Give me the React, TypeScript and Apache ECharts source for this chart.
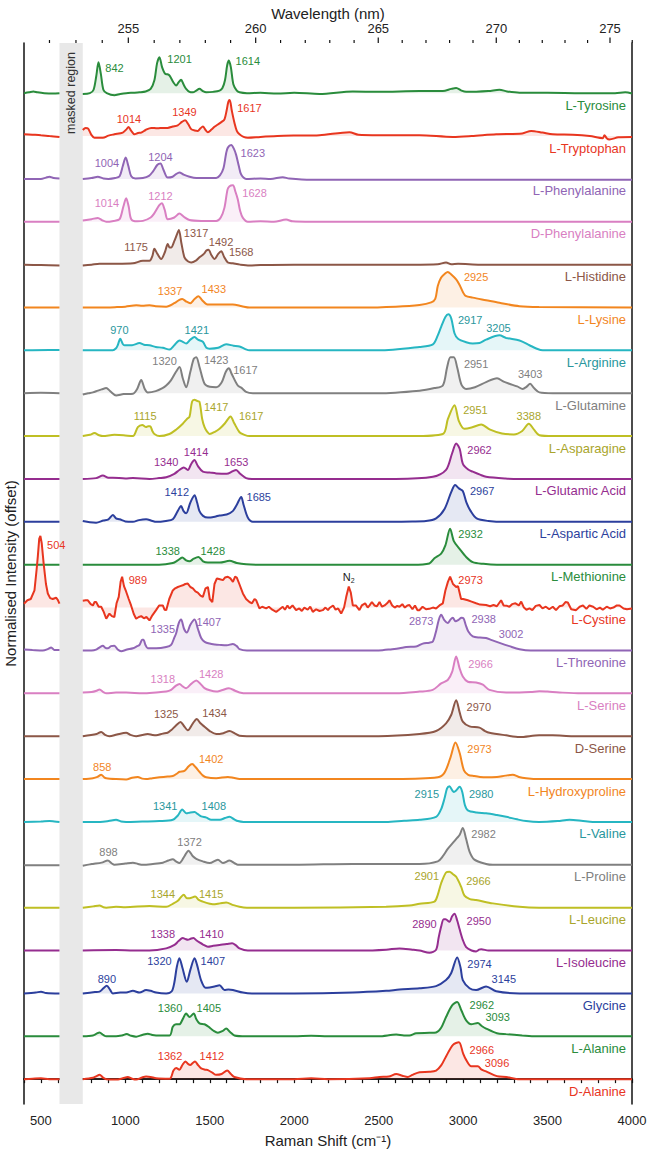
import React, { useEffect, useRef } from 'react';
import * as echarts from 'echarts';

const FONT = '"Liberation Sans", Arial, Helvetica, sans-serif';

const xMin = 400;
const xMax = 4000;
const yMin = -0.58;
const yMax = 24.17;
const maskedRegion = [610, 748];
const laserNm = 248.55;
const wavelengthTicks = [252, 253, 254, 255, 256, 257, 258, 259, 260, 261, 262, 263, 264, 265, 266, 267, 268, 269, 270, 271, 272, 273, 274, 275, 276];

const names = ['L-Tyrosine', 'L-Tryptophan', 'L-Phenylalanine', 'D-Phenylalanine', 'L-Histidine', 'L-Lysine', 'L-Arginine', 'L-Glutamine', 'L-Asparagine', 'L-Glutamic Acid', 'L-Aspartic Acid', 'L-Methionine', 'L-Cystine', 'L-Threonine', 'L-Serine', 'D-Serine', 'L-Hydroxyproline', 'L-Valine', 'L-Proline', 'L-Leucine', 'L-Isoleucine', 'Glycine', 'L-Alanine', 'D-Alanine'];

const lineColors = ['#2A8C3C', '#E8361F', '#9065B5', '#D97FC2', '#8C5747', '#F2861F', '#26B6C2', '#808080', '#BFBF24', '#952D8F', '#2C3F9D'];
const textColors = ['#2A8C3C', '#E8361F', '#9065B5', '#D97FC2', '#8C5747', '#F2861F', '#2A979D', '#808080', '#A9A52B', '#952D8F', '#2C3F9D'];

const tyrosine = [[400,0],[430,0.02],[455,0.04],[480,0.02],[520,0],[570,-0.01],[610,0],
[748,-0.02],[790,0],[812,0.08],[828,0.4],[841,0.72],[855,0.45],[870,0.08],[890,0],[935,-0.05],[970,-0.02],[1005,0],[1050,0.01],[1084,0.02],[1120,0.04],[1150,0.1],[1172,0.3],[1188,0.7],[1202,0.84],[1218,0.6],[1236,0.45],[1250,0.44],[1262,0.41],[1285,0.25],[1301,0.18],[1315,0.25],[1330,0.31],[1345,0.2],[1360,0.1],[1380,0.03],[1400,0.02],[1420,0.06],[1439,0.1],[1458,0.05],[1479,0.02],[1520,0.03],[1558,0.06],[1575,0.12],[1590,0.3],[1603,0.65],[1613,0.76],[1625,0.6],[1640,0.2],[1660,0.06],[1676,0.02],[1720,0],[1800,0.01],[1900,-0.01],[2000,0.01],[2150,-0.02],[2347,0.04],[2500,0.03],[2742,0.05],[2880,0.05],[2930,0.1],[2959,0.12],[2990,0.06],[3018,0.03],[3150,0.05],[3215,0.08],[3260,0.04],[3334,0.01],[3500,0.01],[3700,0],[3900,0],[3960,0.02],[4000,-0.01]];

const tryptophan = [[400,0.04],[450,0.03],[500,0.02],[550,0],[610,-0.02],
[748,0.14],[765,0.19],[780,0.17],[800,0.02],[817,-0.04],[867,-0.04],[900,0.01],[935,0.04],[985,0.08],[1005,0.15],[1019,0.21],[1035,0.12],[1054,0.04],[1075,0.07],[1094,0.08],[1120,0.14],[1153,0.19],[1190,0.18],[1223,0.19],[1250,0.19],[1281,0.22],[1310,0.25],[1335,0.33],[1354,0.37],[1372,0.28],[1390,0.16],[1410,0.13],[1429,0.12],[1445,0.18],[1459,0.22],[1475,0.14],[1489,0.09],[1510,0.15],[1530,0.22],[1548,0.27],[1570,0.33],[1587,0.39],[1600,0.6],[1610,0.8],[1618,0.84],[1630,0.6],[1646,0.31],[1660,0.12],[1676,0.04],[1700,-0.02],[1725,-0.04],[1800,-0.02],[1900,0],[2000,0.01],[2150,0.02],[2327,0.09],[2380,0.03],[2500,0.02],[2742,0.02],[2939,-0.02],[3050,0],[3196,0.04],[3350,0.06],[3403,0.12],[3470,0.08],[3531,0.04],[3650,0.03],[3750,0],[3827,-0.05],[3837,0.02],[3850,-0.05],[3866,-0.08],[3920,-0.03],[4000,-0.02]];

const phenylalanine = [[400,0],[500,0],[530,0.03],[551,0.05],[575,0.02],[610,0.01],
[748,0],[800,0.02],[837,0.05],[870,0.01],[900,0],[940,0.02],[966,0.06],[985,0.3],[1002,0.5],[1018,0.3],[1035,0.06],[1060,0.01],[1104,0.02],[1140,0.07],[1163,0.17],[1190,0.33],[1208,0.36],[1225,0.22],[1251,0.03],[1280,0.05],[1300,0.11],[1320,0.15],[1345,0.1],[1380,0.05],[1420,0.02],[1500,0.02],[1538,0.02],[1560,0.08],[1581,0.25],[1597,0.6],[1607,0.73],[1627,0.79],[1643,0.7],[1656,0.56],[1672,0.3],[1686,0.1],[1715,0],[1800,0.01],[1860,0],[1932,0.04],[1970,0.01],[2100,-0.02],[3000,-0.02],[4000,-0.02]];

const dPhenylalanine = [[400,0],[610,0],
[748,0.03],[800,0.06],[837,0.09],[865,0.03],[887,0],[930,0.02],[966,0.06],[988,0.35],[1005,0.55],[1020,0.35],[1035,0.06],[1070,0.01],[1104,0.02],[1150,0.1],[1172,0.2],[1200,0.38],[1216,0.43],[1233,0.28],[1251,0.06],[1290,0.1],[1320,0.19],[1345,0.12],[1380,0.04],[1450,0.02],[1538,0.02],[1565,0.1],[1587,0.33],[1605,0.75],[1617,0.83],[1637,0.85],[1652,0.7],[1666,0.52],[1680,0.25],[1696,0.09],[1725,0],[1800,0.01],[1880,0],[1952,0.05],[1990,0.01],[2100,0],[3000,0],[4000,0]];

const histidine = [[400,0],[500,-0.01],[610,-0.02],
[748,-0.02],[800,0],[847,0.02],[950,0.02],[1045,0.03],[1104,0.09],[1143,0.09],[1160,0.2],[1172,0.37],[1190,0.25],[1212,0.13],[1235,0.3],[1251,0.48],[1262,0.4],[1271,0.4],[1291,0.56],[1305,0.7],[1317,0.81],[1332,0.5],[1350,0.17],[1370,0.08],[1390,0.05],[1420,0.1],[1439,0.17],[1465,0.25],[1480,0.33],[1492,0.35],[1510,0.22],[1528,0.13],[1550,0.25],[1568,0.31],[1585,0.18],[1607,0.05],[1637,0.03],[1680,0],[1735,-0.02],[1800,-0.01],[2000,0],[2400,0],[2700,0],[2850,0.01],[2899,0.05],[2930,0.01],[2970,0.02],[3100,0],[4000,0]];

const lysine = [[400,0],[610,0],
[748,0],[850,0],[950,0.01],[1000,0.02],[1065,0.05],[1100,0.04],[1143,0.05],[1180,0.03],[1242,0.02],[1290,0.1],[1320,0.18],[1337,0.2],[1360,0.14],[1384,0.1],[1410,0.2],[1433,0.26],[1455,0.17],[1480,0.08],[1498,0.07],[1560,0.07],[1636,0.07],[1690,0.03],[1735,0],[2000,0],[2400,0],[2600,0.02],[2742,0.06],[2811,0.12],[2835,0.2],[2850,0.5],[2870,0.7],[2895,0.8],[2909,0.83],[2930,0.77],[2960,0.65],[2980,0.52],[3000,0.35],[3015,0.27],[3057,0.23],[3136,0.17],[3215,0.11],[3334,0.03],[3450,0.01],[4000,0]];

const arginine = [[400,0],[550,0.01],[610,0.01],
[748,0],[850,0],[926,0],[945,0.05],[955,0.12],[970,0.27],[985,0.15],[995,0.12],[1040,0.12],[1084,0.17],[1110,0.13],[1143,0.12],[1180,0.08],[1222,0.06],[1262,0.02],[1290,0.12],[1321,0.23],[1340,0.2],[1360,0.16],[1385,0.25],[1410,0.31],[1430,0.25],[1459,0.2],[1480,0.06],[1499,0.04],[1550,0.06],[1597,0.14],[1640,0.11],[1676,0.09],[1710,0.03],[1735,0],[2000,0],[2500,0],[2742,0.08],[2821,0.14],[2850,0.35],[2870,0.55],[2895,0.78],[2913,0.84],[2930,0.74],[2949,0.4],[2970,0.27],[3018,0.19],[3057,0.16],[3097,0.17],[3136,0.25],[3215,0.35],[3255,0.29],[3334,0.23],[3393,0.12],[3430,0.05],[3472,0],[4000,0]];

const glutamine = [[400,0],[500,0.01],[610,0],
[748,-0.03],[780,0],[808,0.02],[837,0.06],[860,0.09],[887,0.12],[910,0.05],[945,-0.05],[990,-0.02],[1045,-0.01],[1070,0.1],[1094,0.31],[1115,0.1],[1133,0.02],[1180,0.05],[1220,0.12],[1242,0.18],[1270,0.3],[1300,0.5],[1321,0.61],[1340,0.35],[1360,0.14],[1385,0.5],[1405,0.8],[1420,0.84],[1440,0.6],[1469,0.22],[1500,0.15],[1538,0.14],[1570,0.25],[1595,0.5],[1613,0.58],[1630,0.45],[1666,0.18],[1690,0.12],[1715,0.03],[1755,0],[2000,0],[2500,0],[2742,0.06],[2830,0.12],[2880,0.18],[2905,0.6],[2925,0.84],[2945,0.84],[2965,0.6],[2990,0.2],[3018,0.1],[3070,0.14],[3136,0.26],[3201,0.35],[3240,0.27],[3274,0.22],[3320,0.16],[3353,0.1],[3375,0.15],[3397,0.22],[3420,0.12],[3452,0.02],[3531,0],[4000,0]];

const asparagine = [[400,0],[610,0],
[748,0],[790,0.03],[817,0.07],[845,0.02],[867,0],[935,0.03],[990,0.02],[1045,0],[1074,0.21],[1100,0.26],[1123,0.21],[1135,0.23],[1147,0.23],[1160,0.12],[1172,0.05],[1202,0],[1261,0.05],[1300,0.15],[1340,0.29],[1365,0.4],[1380,0.45],[1395,0.8],[1409,0.85],[1425,0.82],[1439,0.8],[1455,0.4],[1469,0.21],[1485,0.1],[1499,0.05],[1530,0.1],[1558,0.17],[1590,0.3],[1623,0.46],[1645,0.3],[1676,0.09],[1705,0.03],[1735,0],[2000,0],[2700,0],[2880,0.05],[2910,0.4],[2949,0.72],[2975,0.35],[3008,0.17],[3050,0.2],[3107,0.27],[3160,0.15],[3230,0.06],[3300,0.04],[3350,0.12],[3389,0.29],[3420,0.15],[3452,0.02],[3531,0],[4000,0]];

const glutamicAcid = [[400,0],[610,0],
[748,0],[827,0.02],[867,0.08],[900,0.03],[926,0.03],[1000,0.01],[1045,0.02],[1143,0],[1200,0.02],[1242,0.04],[1290,0.12],[1320,0.21],[1346,0.27],[1370,0.21],[1390,0.35],[1409,0.44],[1430,0.3],[1459,0.17],[1500,0.15],[1538,0.13],[1600,0.12],[1635,0.18],[1656,0.21],[1680,0.12],[1715,0.02],[1750,0],[2000,0],[2600,0],[2821,0.05],[2899,0.21],[2935,0.6],[2959,0.83],[2980,0.7],[2998,0.36],[3030,0.22],[3057,0.17],[3100,0.1],[3136,0.05],[3250,0.01],[3334,0],[4000,0]];

const asparticAcid = [[400,0],[610,0],
[748,0.02],[790,-0.01],[827,-0.02],[870,0.03],[900,0.06],[926,0.16],[945,0.08],[966,0.06],[1000,0.01],[1045,0],[1080,0.04],[1123,0.06],[1160,0.02],[1182,0],[1240,0.02],[1281,0.06],[1310,0.25],[1330,0.37],[1345,0.25],[1360,0.2],[1385,0.45],[1410,0.62],[1425,0.45],[1439,0.25],[1460,0.14],[1489,0.1],[1530,0.12],[1558,0.15],[1600,0.17],[1636,0.25],[1660,0.4],[1686,0.58],[1700,0.4],[1725,0.1],[1755,0],[2000,0],[2500,0],[2700,0.01],[2780,0.02],[2840,0.08],[2890,0.3],[2930,0.7],[2953,0.86],[2975,0.78],[2998,0.72],[3020,0.45],[3045,0.25],[3080,0.08],[3150,0.02],[3250,0],[4000,0]];

const methionine = [[400,0],[610,0],
[748,0],[1000,0],[1200,0],[1281,0.04],[1310,0.1],[1337,0.17],[1360,0.1],[1380,0.08],[1405,0.14],[1433,0.18],[1460,0.08],[1489,0.05],[1560,0.05],[1617,0.09],[1660,0.04],[1715,0.01],[1800,0],[2700,0],[2800,0.03],[2830,0.15],[2870,0.26],[2895,0.45],[2923,0.84],[2945,0.55],[2979,0.37],[3018,0.18],[3057,0.06],[3120,0.02],[3200,0],[4000,0]];

const cystine = [[400,0.09],[420,0.17],[440,0.2],[462,0.4],[475,0.9],[482,1.2],[490,1.6],[497,1.67],[505,1.5],[517,1.0],[530,0.55],[541,0.33],[555,0.22],[570,0.2],[590,0.23],[600,0.18],[610,0.09],
[748,0.16],[765,0.17],[778,0.17],[795,0.08],[808,0.05],[818,0.13],[827,0.13],[842,0.02],[857,0.02],[872,-0.1],[887,-0.26],[896,-0.2],[906,-0.14],[920,-0.2],[935,-0.22],[948,0.1],[961,0.25],[972,0.6],[981,0.72],[992,0.5],[1005,0.37],[1020,0.2],[1034,0.05],[1050,-0.15],[1064,-0.26],[1080,-0.22],[1094,-0.2],[1110,-0.25],[1125,-0.22],[1143,-0.3],[1160,-0.18],[1182,-0.06],[1200,0.05],[1222,0.05],[1232,-0.05],[1242,-0.06],[1260,0.2],[1281,0.4],[1295,0.45],[1311,0.48],[1325,0.5],[1340,0.52],[1355,0.55],[1370,0.56],[1385,0.48],[1400,0.45],[1415,0.38],[1429,0.35],[1445,0.28],[1459,0.25],[1475,0.45],[1489,0.48],[1500,0.2],[1515,0.13],[1528,0.55],[1542,0.68],[1560,0.66],[1578,0.64],[1590,0.7],[1607,0.72],[1622,0.68],[1637,0.6],[1650,0.72],[1660,0.7],[1675,0.55],[1696,0.33],[1715,0.2],[1735,0.13],[1750,0.1],[1765,0.2],[1775,0.17],[1794,-0.02],[1810,0.02],[1834,-0.02],[1850,0.02],[1870,-0.05],[1893,-0.1],[1910,-0.05],[1932,0.02],[1945,-0.05],[1960,0.05],[1972,-0.02],[1990,0.05],[2011,-0.06],[2030,-0.02],[2045,-0.08],[2060,0],[2080,-0.05],[2095,0.02],[2110,-0.1],[2130,-0.04],[2150,-0.08],[2169,-0.06],[2185,0],[2200,-0.06],[2209,-0.01],[2230,0.05],[2245,-0.05],[2260,-0.02],[2278,-0.14],[2295,0],[2308,0.25],[2323,0.49],[2335,0.35],[2347,0.05],[2365,0.05],[2386,-0.06],[2400,0.05],[2420,0.1],[2435,0],[2446,0.05],[2460,0.13],[2475,0.05],[2490,0.03],[2505,0.13],[2520,0.02],[2535,0.05],[2550,0.1],[2564,0.17],[2580,0.05],[2595,0],[2610,0.04],[2623,0.02],[2640,0.08],[2655,0],[2670,0.05],[2682,0.06],[2700,-0.04],[2715,0.05],[2730,-0.06],[2742,-0.06],[2760,0.02],[2780,-0.04],[2800,-0.03],[2821,0],[2840,-0.02],[2860,0.05],[2880,0.1],[2895,0.4],[2910,0.6],[2923,0.72],[2940,0.55],[2959,0.48],[2970,0.5],[2988,0.2],[3000,0.2],[3028,0.17],[3050,0.14],[3077,0.1],[3100,0.07],[3136,0.06],[3160,0.03],[3180,0.06],[3200,0.03],[3225,0.17],[3240,0.05],[3260,0.04],[3274,0.02],[3290,0.08],[3310,0.1],[3330,0.05],[3344,0.14],[3360,0],[3375,-0.05],[3393,-0.02],[3410,-0.06],[3430,0.04],[3452,0.06],[3470,-0.02],[3490,0.02],[3510,-0.04],[3531,0.02],[3550,-0.06],[3570,0.03],[3590,0.05],[3606,0.13],[3620,0.12],[3640,-0.04],[3669,-0.06],[3690,0.02],[3710,0.05],[3730,-0.03],[3748,0.05],[3770,0.02],[3790,-0.04],[3810,0],[3827,-0.05],[3850,0.02],[3870,-0.02],[3890,0],[3910,0.05],[3926,0.05],[3950,-0.02],[3970,-0.04],[4000,-0.02]];

const threonine = [[400,0.02],[450,0.01],[511,0],[540,0.03],[561,0.07],[580,0.01],[610,0.01],
[748,0],[800,0],[827,0.02],[850,0.08],[867,0.11],[882,0.06],[896,0.05],[915,0.1],[935,0.11],[955,0.02],[975,-0.02],[1010,0.02],[1045,0.05],[1070,0.1],[1084,0.13],[1100,0.25],[1107,0.25],[1120,0.12],[1133,0.05],[1182,0.05],[1242,0.08],[1271,0.13],[1290,0.3],[1301,0.4],[1315,0.62],[1330,0.72],[1348,0.5],[1364,0.42],[1385,0.6],[1410,0.72],[1430,0.5],[1449,0.29],[1470,0.2],[1499,0.16],[1530,0.14],[1558,0.13],[1600,0.12],[1637,0.15],[1660,0.1],[1676,0.03],[1720,0],[2000,0],[2500,0],[2580,0.03],[2623,0.05],[2663,0.08],[2722,0.09],[2761,0.16],[2800,0.18],[2821,0.21],[2840,0.45],[2855,0.7],[2870,0.83],[2890,0.7],[2909,0.64],[2925,0.72],[2939,0.76],[2955,0.68],[2975,0.72],[2990,0.76],[3002,0.75],[3015,0.6],[3030,0.45],[3057,0.33],[3100,0.3],[3136,0.29],[3170,0.24],[3220,0.17],[3274,0.1],[3334,0.03],[3400,0],[4000,0]];

const serine = [[400,0],[610,0],
[748,0.02],[800,0.03],[830,0.06],[847,0.09],[870,0.03],[887,0],[945,0.02],[1005,0.02],[1104,0],[1182,0.02],[1242,0.04],[1271,0.08],[1300,0.18],[1321,0.22],[1340,0.16],[1360,0.12],[1390,0.22],[1420,0.3],[1445,0.22],[1469,0.12],[1500,0.07],[1538,0.04],[1570,0.07],[1613,0.12],[1650,0.06],[1676,0.02],[1720,0],[2000,0],[2600,0],[2742,0.04],[2820,0.08],[2870,0.23],[2909,0.31],[2935,0.5],[2959,0.86],[2978,0.6],[2998,0.39],[3028,0.27],[3077,0.25],[3117,0.2],[3156,0.08],[3255,0.02],[3334,0.02],[3400,0.03],[3452,0.05],[3500,0.04],[3570,0.02],[3700,0],[4000,0]];

const dSerine = [[400,0],[610,0],
[748,0],[830,0.05],[857,0.1],[880,0.03],[906,0],[950,0.04],[1005,0.08],[1030,0.03],[1064,0],[1100,0.03],[1133,0.05],[1160,0.03],[1182,0.02],[1222,0.06],[1250,0.08],[1271,0.14],[1300,0.25],[1327,0.33],[1345,0.25],[1370,0.14],[1400,0.3],[1423,0.4],[1445,0.3],[1469,0.22],[1500,0.12],[1538,0.05],[1580,0.07],[1617,0.12],[1650,0.06],[1676,0.01],[1720,0],[2000,0],[2500,0],[2742,0.05],[2840,0.12],[2899,0.3],[2930,0.5],[2959,0.84],[2980,0.55],[2998,0.34],[3038,0.23],[3097,0.2],[3130,0.12],[3156,0.08],[3255,0.02],[3334,-0.02],[3450,0.02],[3531,0.02],[3650,0],[4000,0]];

const hydroxyproline = [[400,0],[610,0],
[748,0],[808,0.02],[835,0.05],[857,0.1],[875,0.04],[887,0.02],[945,0],[1005,-0.01],[1040,0.03],[1074,0.05],[1100,0.01],[1123,0],[1160,0.02],[1202,0.04],[1250,0.06],[1281,0.07],[1310,0.14],[1321,0.17],[1350,0.19],[1375,0.3],[1396,0.35],[1415,0.28],[1439,0.17],[1460,0.08],[1479,0.04],[1538,0.02],[1607,0.05],[1640,0.03],[1676,0],[2000,0],[2600,0],[2850,0.04],[2890,0.15],[2925,0.5],[2955,0.85],[2980,0.6],[3005,0.2],[3030,0.1],[3067,0.07],[3100,0.05],[3136,0.04],[3200,0.05],[3250,0.08],[3294,0.1],[3330,0.05],[3373,0.02],[3450,0],[4000,0]];

const valine = [[400,0],[500,0.01],[551,0.02],[580,0.01],[610,0],
[748,0],[850,0],[900,0.02],[945,0.05],[975,0.01],[1005,0],[1100,0.01],[1202,0.02],[1281,0.05],[1311,0.15],[1337,0.29],[1350,0.24],[1360,0.2],[1385,0.22],[1410,0.23],[1430,0.18],[1449,0.13],[1480,0.1],[1508,0.05],[1560,0.05],[1590,0.09],[1617,0.12],[1645,0.06],[1666,0.02],[1700,0],[2000,0],[2544,0],[2650,0.03],[2742,0.05],[2840,0.12],[2870,0.3],[2890,0.55],[2905,0.78],[2919,0.83],[2935,0.74],[2945,0.7],[2960,0.74],[2979,0.82],[2995,0.7],[3010,0.4],[3028,0.27],[3080,0.22],[3136,0.2],[3200,0.16],[3255,0.12],[3320,0.06],[3373,0.02],[3450,0],[3560,0.02],[3630,0.05],[3700,0.03],[3768,0],[4000,0]];

const proline = [[400,-0.01],[610,-0.01],
[748,-0.02],[790,0.01],[808,0.02],[860,0.05],[896,0.1],[920,0.03],[935,0],[1000,0.03],[1045,0.05],[1075,0.02],[1104,0],[1163,0.02],[1222,0.05],[1255,0.1],[1281,0.13],[1300,0.08],[1320,0.04],[1350,0.2],[1374,0.33],[1400,0.2],[1420,0.14],[1459,0.08],[1499,0.04],[1548,0.12],[1578,0.04],[1617,0.1],[1650,0.03],[1666,0],[1750,0],[2000,0],[2347,0.02],[2742,0.02],[2850,0.08],[2880,0.2],[2909,0.37],[2939,0.51],[2963,0.62],[2980,0.7],[2998,0.86],[3018,0.6],[3038,0.31],[3067,0.12],[3136,0.02],[3176,0],[4000,0]];

const leucine = [[400,0],[610,0],
[748,0],[810,0.03],[847,0.05],[870,0.01],[887,0],[945,0.02],[1000,0.01],[1143,0.04],[1242,0.02],[1281,0.09],[1311,0.16],[1330,0.25],[1346,0.3],[1365,0.22],[1380,0.22],[1413,0.26],[1435,0.18],[1459,0.14],[1500,0.09],[1518,0.08],[1560,0.1],[1597,0.12],[1640,0.06],[1676,0.02],[1720,0],[2000,0],[2544,0.02],[2682,0.05],[2742,0.09],[2830,0.14],[2850,0.3],[2870,0.57],[2899,0.82],[2919,0.84],[2940,0.78],[2959,0.72],[2988,0.49],[3008,0.28],[3040,0.2],[3077,0.18],[3176,0.1],[3334,0.02],[3450,0],[4000,0]];

const isoleucine = [[400,0],[610,0],
[748,0],[945,0.01],[1050,0],[1143,0],[1242,0.05],[1291,0.13],[1315,0.22],[1340,0.29],[1355,0.27],[1370,0.25],[1390,0.28],[1404,0.29],[1420,0.24],[1439,0.19],[1460,0.14],[1489,0.09],[1520,0.11],[1558,0.13],[1600,0.15],[1632,0.17],[1655,0.12],[1676,0.05],[1725,0],[2000,0],[2400,0],[2544,0.02],[2623,0.05],[2700,0.02],[2742,0],[2801,-0.05],[2840,0.02],[2855,0.3],[2870,0.56],[2885,0.73],[2896,0.73],[2919,0.67],[2935,0.8],[2949,0.86],[2965,0.7],[2979,0.5],[2998,0.25],[3018,0.08],[3050,0],[3077,-0.02],[3095,0.02],[3107,0.03],[3150,0],[4000,0]];

const glycine = [[400,0],[470,0.02],[501,0.04],[530,0.01],[610,0],
[748,0],[820,0.03],[847,0.04],[870,0.12],[890,0.18],[910,0.08],[926,0],[970,0.02],[1005,0.02],[1045,0.06],[1084,0.02],[1123,0.08],[1150,0.06],[1182,0.02],[1242,0],[1275,0.05],[1290,0.25],[1305,0.62],[1320,0.82],[1338,0.6],[1364,0.27],[1385,0.55],[1410,0.82],[1425,0.66],[1449,0.3],[1475,0.13],[1499,0.14],[1528,0.16],[1558,0.19],[1587,0.08],[1610,0.09],[1637,0.08],[1696,0.02],[1750,0],[2000,0],[2347,0.02],[2544,0.06],[2623,0.09],[2742,0.12],[2840,0.17],[2899,0.31],[2929,0.47],[2965,0.84],[2985,0.6],[2998,0.31],[3038,0.12],[3077,0.08],[3136,0.16],[3196,0.05],[3334,0],[4000,0]];

const lAlanine = [[400,0],[610,0],
[748,0],[808,0.02],[830,0.06],[847,0.09],[870,0.03],[887,0],[945,0],[980,0.02],[1008,0.05],[1035,0.01],[1064,-0.01],[1100,0.03],[1133,0.06],[1160,0.03],[1182,0.02],[1262,0.02],[1281,0.22],[1300,0.28],[1320,0.28],[1340,0.4],[1360,0.53],[1380,0.45],[1405,0.53],[1420,0.4],[1439,0.3],[1469,0.28],[1500,0.2],[1518,0.14],[1548,0.08],[1575,0.12],[1597,0.18],[1620,0.1],[1646,0.02],[1715,0],[2000,0],[2100,0.01],[2200,0],[2500,0],[2604,0.04],[2650,0.02],[2682,0.02],[2722,0.07],[2800,0.08],[2840,0.09],[2870,0.2],[2899,0.45],[2935,0.72],[2965,0.8],[2990,0.6],[3018,0.37],[3048,0.28],[3087,0.31],[3110,0.24],[3136,0.18],[3200,0.07],[3255,0.05],[3350,0.02],[3432,0],[4000,0]];

const dAlanine = [[400,0],[450,0.01],[500,0.02],[550,0],[610,0],
[748,0],[808,0.03],[830,0.07],[847,0.1],[870,0.03],[887,0],[945,-0.01],[985,0.02],[1014,0.05],[1040,0.01],[1064,-0.01],[1100,0.04],[1123,0.06],[1150,0.05],[1182,0.02],[1262,0.01],[1285,0.2],[1301,0.26],[1320,0.22],[1338,0.33],[1356,0.41],[1370,0.36],[1384,0.33],[1400,0.38],[1413,0.41],[1430,0.33],[1449,0.25],[1475,0.22],[1489,0.21],[1515,0.15],[1538,0.1],[1570,0.12],[1603,0.2],[1625,0.12],[1646,0.05],[1715,0],[2000,0],[2100,0.02],[2200,0],[2446,0.02],[2505,0.05],[2560,0.06],[2604,0.12],[2640,0.08],[2673,0.05],[2700,0.1],[2742,0.16],[2800,0.17],[2840,0.2],[2870,0.32],[2899,0.53],[2940,0.8],[2975,0.86],[3000,0.6],[3018,0.45],[3048,0.3],[3070,0.3],[3087,0.3],[3110,0.22],[3136,0.18],[3200,0.07],[3255,0.05],[3334,0],[4000,0]];

const spectra = [tyrosine, tryptophan, phenylalanine, dPhenylalanine, histidine, lysine, arginine, glutamine, asparagine, glutamicAcid, asparticAcid, methionine, cystine, threonine, serine, dSerine, hydroxyproline, valine, proline, leucine, isoleucine, glycine, lAlanine, dAlanine];

// [label, Raman shift of label centre, height above baseline]
const peakLabels: [string, number, number][][] = [
  [['842', 936, 0.59], ['1201', 1321, 0.8], ['1614', 1725, 0.75]],
  [['1014', 1021, 0.39], ['1349', 1350, 0.56], ['1617', 1735, 0.66]],
  [['1004', 891, 0.38], ['1204', 1208, 0.52], ['1623', 1755, 0.6]],
  [['1014', 891, 0.43], ['1212', 1208, 0.6], ['1628', 1765, 0.66]],
  [['1175', 1064, 0.4], ['1317', 1419, 0.74], ['1492', 1567, 0.52], ['1568', 1686, 0.29]],
  [['1337', 1265, 0.39], ['1433', 1524, 0.44], ['2925', 3077, 0.72]],
  [['970', 965, 0.47], ['1421', 1423, 0.48], ['2917', 3042, 0.7], ['3205', 3209, 0.53]],
  [['1320', 1232, 0.76], ['1423', 1538, 0.78], ['1617', 1711, 0.55], ['2951', 3077, 0.69], ['3403', 3397, 0.44]],
  [['1115', 1117, 0.47], ['1417', 1538, 0.69], ['1617', 1745, 0.47], ['2951', 3073, 0.62], ['3388', 3389, 0.47]],
  [['1340', 1242, 0.4], ['1414', 1419, 0.62], ['1653', 1656, 0.4], ['2962', 3097, 0.68]],
  [['1412', 1305, 0.69], ['1685', 1790, 0.57], ['2967', 3113, 0.72]],
  [['1338', 1251, 0.33], ['1428', 1518, 0.33], ['2932', 3044, 0.72]],
  [['504', 591, 1.46], ['989', 1074, 0.64], ['N2', 2323, 0.72], ['2973', 3044, 0.64]],
  [['1335', 1222, 0.51], ['1407', 1494, 0.66], ['2873', 2752, 0.69], ['2938', 3122, 0.73], ['3002', 3284, 0.38]],
  [['1318', 1222, 0.33], ['1428', 1508, 0.44], ['2966', 3103, 0.69]],
  [['1325', 1242, 0.51], ['1434', 1528, 0.55], ['2970', 3093, 0.67]],
  [['858', 863, 0.27], ['1402', 1508, 0.46], ['2973', 3097, 0.69]],
  [['1341', 1236, 0.37], ['1408', 1524, 0.37], ['2915', 2785, 0.66], ['2980', 3107, 0.66]],
  [['898', 900, 0.29], ['1372', 1380, 0.53], ['2982', 3121, 0.72]],
  [['1344', 1222, 0.32], ['1415', 1508, 0.32], ['2901', 2785, 0.74], ['2966', 3091, 0.63]],
  [['1338', 1222, 0.38], ['1410', 1510, 0.38], ['2890', 2771, 0.62], ['2950', 3093, 0.68]],
  [['890', 891, 0.33], ['1320', 1202, 0.76], ['1407', 1518, 0.76], ['2974', 3097, 0.68], ['3145', 3241, 0.33]],
  [['1360', 1265, 0.67], ['1405', 1494, 0.67], ['2962', 3111, 0.72], ['3093', 3205, 0.44]],
  [['1362', 1265, 0.55], ['1412', 1512, 0.55], ['2966', 3111, 0.67], ['3096', 3201, 0.37]],
];

const nameLabelShift = 3965;
const nameLabelDrop = 0.28;

function buildLine(spec: number[][], level: number) {
  const out: any[] = [];
  for (let i = 0; i < spec.length; i++) {
    const [s, v] = spec[i];
    if (i > 0 && spec[i - 1][0] <= maskedRegion[0] && s >= maskedRegion[1]) {
      out.push([(maskedRegion[0] + maskedRegion[1]) / 2, '-']);
    }
    out.push([s, +(level + v).toFixed(4)]);
  }
  return out;
}

function wavelengthToShift(nm: number) {
  return 1e7 / laserNm - 1e7 / nm;
}

export default function App() {
  const ref = useRef<HTMLDivElement>(null);
  useEffect(() => {
    if (!ref.current) return;
    const chart = echarts.init(ref.current, null, { renderer: 'svg' });
    const n = spectra.length;
    const series: any[] = [];

    series.push({
      type: 'custom',
      silent: true,
      z: 1,
      data: [[maskedRegion[0], maskedRegion[1]]],
      encode: { x: [0, 1] },
      renderItem: (params: any, api: any) => {
        const p0 = api.coord([api.value(0), yMax]);
        const p1 = api.coord([api.value(1), yMin]);
        return {
          type: 'group',
          children: [
            { type: 'rect', shape: { x: p0[0], y: p0[1], width: p1[0] - p0[0], height: p1[1] - p0[1] }, style: { fill: '#E8E8E8' } },
            {
              type: 'text', x: (p0[0] + p1[0]) / 2, y: p0[1] + 9, rotation: Math.PI / 2,
              style: { text: 'masked region', fill: '#333', fontSize: 12.5, fontFamily: FONT, align: 'right', verticalAlign: 'middle' },
            },
          ],
        };
      },
    });

    spectra.forEach((spec, k) => {
      const level = n - 1 - k;
      const color = lineColors[k % lineColors.length];
      series.push({
        type: 'line',
        name: names[k],
        data: buildLine(spec, level),
        showSymbol: false,
        symbol: 'none',
        smooth: k === 12 ? false : 0.3,
        connectNulls: false,
        silent: true,
        z: 3,
        lineStyle: { color, width: 2 },
        areaStyle: { color, opacity: 0.12, origin: level },
      });
    });

    const texts: { text: string; color: string; size: number; align: string }[] = [];
    const textPos: number[][] = [];
    peakLabels.forEach((list, k) => {
      const level = n - 1 - k;
      const c = textColors[k % textColors.length];
      list.forEach(([t, s, dy]) => {
        texts.push({ text: t, color: t === 'N2' ? '#222' : c, size: 11, align: 'center' });
        textPos.push([s, level + dy]);
      });
      texts.push({ text: names[k], color: c, size: 13, align: 'right' });
      textPos.push([nameLabelShift, level - nameLabelDrop]);
    });

    series.push({
      type: 'custom',
      silent: true,
      z: 10,
      data: textPos,
      renderItem: (params: any, api: any) => {
        const t = texts[params.dataIndex];
        const p = api.coord([api.value(0), api.value(1)]);
        const isN2 = t.text === 'N2';
        return {
          type: 'text', x: p[0], y: p[1],
          style: {
            text: isN2 ? 'N{s|2}' : t.text,
            fill: t.color, fontSize: t.size, fontFamily: FONT,
            align: t.align, verticalAlign: 'middle',
            rich: isN2 ? { s: { fontSize: 7, fill: t.color, fontFamily: FONT, padding: [7, 0, 0, 0] } } : undefined,
          },
        };
      },
    });

    series.push({
      type: 'custom',
      silent: true,
      z: 10,
      data: wavelengthTicks.map((w) => [wavelengthToShift(w), w]),
      renderItem: (params: any, api: any) => {
        const w = api.value(1);
        const p = api.coord([api.value(0), yMax]);
        const major = w % 5 === 0;
        const children: any[] = [
          { type: 'line', shape: { x1: p[0], y1: p[1], x2: p[0], y2: p[1] - (major ? 5.5 : 3) }, style: { stroke: '#111', lineWidth: 1.2 } },
        ];
        if (major) {
          children.push({
            type: 'text', x: p[0], y: p[1] - 8,
            style: { text: String(w), fill: '#222', fontSize: 13, fontFamily: FONT, align: 'center', verticalAlign: 'bottom' },
          });
        }
        return { type: 'group', children };
      },
    });

    chart.setOption({
      animation: false,
      textStyle: { fontFamily: FONT },
      grid: { left: 24, right: 18, top: 43, bottom: 48, containLabel: false, outerBoundsMode: 'none' },
      xAxis: [
        {
          type: 'value', min: xMin, max: xMax, interval: 100, position: 'bottom',
          name: 'Raman Shift (cm⁻¹)', nameLocation: 'middle', nameGap: 29,
          nameTextStyle: { fontSize: 15, color: '#222', fontFamily: FONT },
          axisLine: { show: true, lineStyle: { color: '#111', width: 1.5 } },
          axisTick: { show: true, length: 4, lineStyle: { color: '#111', width: 1.2 } },
          axisLabel: {
            show: true, fontSize: 13, color: '#222', margin: 10, fontFamily: FONT,
            showMinLabel: true, showMaxLabel: true,
            formatter: (v: number) => (v % 500 === 0 ? String(v) : ''),
          },
          splitLine: { show: false },
        },
        {
          type: 'value', min: xMin, max: xMax, position: 'top',
          name: 'Wavelength (nm)', nameLocation: 'middle', nameGap: 22,
          nameTextStyle: { fontSize: 15, color: '#222', fontFamily: FONT },
          axisLine: { show: true, lineStyle: { color: '#111', width: 1.5 } },
          axisTick: { show: false }, axisLabel: { show: false }, splitLine: { show: false },
        },
      ],
      yAxis: [
        {
          type: 'value', min: yMin, max: yMax, position: 'left',
          name: 'Normalised Intensity (offset)', nameLocation: 'middle', nameGap: 6, nameRotate: 90,
          nameTextStyle: { fontSize: 15, color: '#222', fontFamily: FONT },
          axisLine: { show: true, lineStyle: { color: '#111', width: 1.5 } },
          axisTick: { show: false }, axisLabel: { show: false }, splitLine: { show: false },
        },
        {
          type: 'value', min: yMin, max: yMax, position: 'right',
          axisLine: { show: true, lineStyle: { color: '#111', width: 1.5 } },
          axisTick: { show: false }, axisLabel: { show: false }, splitLine: { show: false },
        },
      ],
      series,
    });
    return () => chart.dispose();
  }, []);
  return <div ref={ref} style={{ position: 'absolute', left: 0, top: 0, width: 650, height: 1152 }} />;
}
